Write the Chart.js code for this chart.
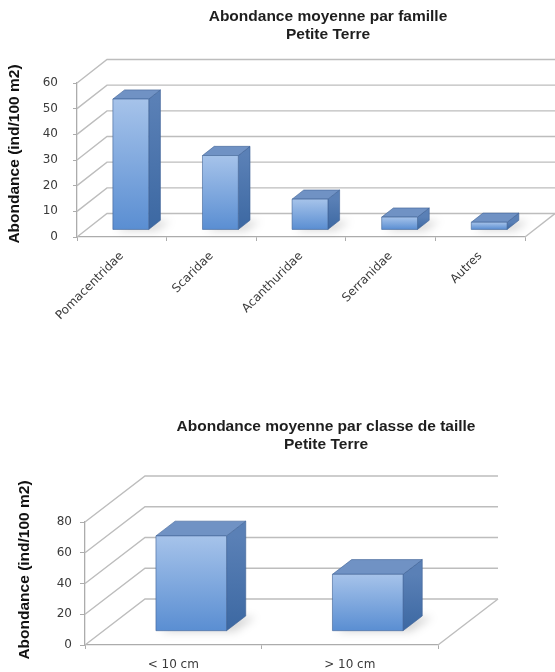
<!DOCTYPE html>
<html>
<head>
<meta charset="utf-8">
<script src="https://cdn.jsdelivr.net/npm/chart.js@4.4.1/dist/chart.umd.min.js"></script>
<style>
  html, body { margin: 0; padding: 0; background: #ffffff; }
  #wrap { position: relative; width: 555px; height: 672px; overflow: hidden; }
  canvas { position: absolute; left: 0; }
  #famille { top: 0; }
  #taille { top: 340px; }
</style>
</head>
<body>
<div id="wrap">
  <canvas id="famille" width="555" height="340"></canvas>
  <canvas id="taille" width="555" height="332"></canvas>
</div>
<script>
// Abondance moyenne par famille (ind/100 m2)
const familyLabels = ['Pomacentridae', 'Scaridae', 'Acanthuridae', 'Serranidae', 'Autres'];
const familyValues = [51, 29, 12, 5, 3];
const familyTicks = [0, 10, 20, 30, 40, 50, 60];

// Abondance moyenne par classe de taille (ind/100 m2)
const sizeLabels = ['< 10 cm', '> 10 cm'];
const sizeValues = [62, 37];
const sizeTicks = [0, 20, 40, 60, 80];

const yAxisTitle = 'Abondance (ind/100 m2)';
const familyTitle = ['Abondance moyenne par famille', 'Petite Terre'];
const sizeTitle = ['Abondance moyenne par classe de taille', 'Petite Terre'];

const GRID = '#bdbdbd';
const AXIS = '#acacac';
const TICK_FONT = { family: 'DejaVu Sans', size: 12 };
const TITLE_FONT = 'bold 15.5px "Liberation Sans", Arial, sans-serif';

// Pseudo-3D box chart: back wall grid, side diagonals, floor and extruded bars
const box3d = {
  id: 'box3d',
  beforeDatasetsDraw(chart, args, o) {
    const { ctx, chartArea: a, scales: { y } } = chart;
    ctx.save();
    ctx.strokeStyle = GRID;
    ctx.lineWidth = 1.4;
    y.ticks.forEach(t => {
      const py = y.getPixelForValue(t.value);
      ctx.beginPath();
      ctx.moveTo(a.left, py);
      ctx.lineTo(a.left + o.dx, py + o.dy);
      ctx.lineTo(a.right + o.dx, py + o.dy);
      ctx.stroke();
    });
    // right edge of the floor
    ctx.beginPath();
    ctx.moveTo(a.right, a.bottom);
    ctx.lineTo(a.right + o.dx, a.bottom + o.dy);
    ctx.stroke();
    ctx.restore();
  },
  afterDatasetsDraw(chart, args, o) {
    const { ctx } = chart;
    const meta = chart.getDatasetMeta(0);
    const fx = o.dx * o.d1, fy = o.dy * o.d1;
    const bx = o.dx * (o.d2 - o.d1), by = o.dy * (o.d2 - o.d1);
    meta.data.forEach(bar => {
      const p = bar.getProps(['x', 'y', 'base', 'width'], true);
      const L = p.x - p.width / 2 + fx, R = p.x + p.width / 2 + fx;
      const T = p.y + fy, B = p.base + fy;

      // soft floor shadow
      ctx.save();
      ctx.filter = 'blur(4px)';
      ctx.fillStyle = 'rgba(0,0,0,0.16)';
      ctx.beginPath();
      ctx.moveTo(L + 4, B + 1);
      ctx.lineTo(R + 8, B + 1);
      ctx.lineTo(R + bx + 10, B + by + 1);
      ctx.lineTo(L + bx + 4, B + by + 1);
      ctx.closePath();
      ctx.fill();
      ctx.restore();

      ctx.save();
      ctx.lineJoin = 'round';
      ctx.lineWidth = 0.8;
      ctx.strokeStyle = 'rgba(62,98,150,0.75)';

      // side face
      const gs = ctx.createLinearGradient(0, T, 0, B);
      gs.addColorStop(0, '#5a80b6');
      gs.addColorStop(1, '#3c68a2');
      ctx.fillStyle = gs;
      ctx.beginPath();
      ctx.moveTo(R, T);
      ctx.lineTo(R + bx, T + by);
      ctx.lineTo(R + bx, B + by);
      ctx.lineTo(R, B);
      ctx.closePath();
      ctx.fill();
      ctx.stroke();

      // top face
      ctx.fillStyle = '#7092c4';
      ctx.beginPath();
      ctx.moveTo(L, T);
      ctx.lineTo(L + bx, T + by);
      ctx.lineTo(R + bx, T + by);
      ctx.lineTo(R, T);
      ctx.closePath();
      ctx.fill();
      ctx.stroke();

      // front face
      const gf = ctx.createLinearGradient(0, T, 0, B);
      gf.addColorStop(0, '#a6c3ea');
      gf.addColorStop(1, '#5a8ed2');
      ctx.fillStyle = gf;
      ctx.fillRect(L, T, R - L, B - T);
      ctx.strokeRect(L, T, R - L, B - T);
      ctx.restore();
    });
  },
  afterDraw(chart, args, o) {
    const { ctx } = chart;
    ctx.save();
    ctx.fillStyle = '#1e1e1e';
    ctx.font = TITLE_FONT;
    ctx.textAlign = 'center';
    ctx.textBaseline = 'middle';
    o.title.forEach((line, i) => ctx.fillText(line, o.titleX, o.titleY + i * 17.5));
    ctx.translate(o.yTitleX, o.yTitleY);
    ctx.rotate(-Math.PI / 2);
    ctx.fillStyle = '#111111';
    ctx.fillText(yAxisTitle, 0, 0);
    ctx.restore();
  }
};

function makeChart(id, labels, values, ticks, cfg) {
  return new Chart(document.getElementById(id), {
    type: 'bar',
    data: {
      labels: labels,
      datasets: [{
        data: values,
        backgroundColor: 'rgba(0,0,0,0)',
        borderWidth: 0,
        barPercentage: 1,
        categoryPercentage: 0.4
      }]
    },
    options: {
      responsive: false,
      animation: false,
      devicePixelRatio: 1,
      layout: { padding: cfg.padding },
      plugins: {
        legend: { display: false },
        tooltip: { enabled: false },
        title: { display: false },
        box3d: cfg.box
      },
      scales: {
        x: {
          grid: { display: true, drawOnChartArea: false, drawTicks: true, tickLength: 4, color: AXIS, offset: true },
          border: { display: true, color: AXIS, width: 1.3 },
          ticks: {
            color: '#3a3a3a',
            font: TICK_FONT,
            padding: cfg.xPad,
            minRotation: cfg.rot,
            maxRotation: cfg.rot,
            autoSkip: false
          },
          afterFit: s => { s.height = cfg.xHeight; }
        },
        y: {
          min: ticks[0],
          max: ticks[ticks.length - 1],
          afterBuildTicks: s => { s.ticks = ticks.map(v => ({ value: v })); },
          grid: { display: true, drawOnChartArea: false, drawTicks: true, tickLength: cfg.yTick, color: AXIS },
          border: { display: true, color: AXIS, width: 1.3 },
          ticks: { color: '#3a3a3a', font: TICK_FONT, padding: cfg.yPad },
          afterFit: s => { s.width = cfg.yWidth; }
        }
      }
    },
    plugins: [box3d]
  });
}

makeChart('famille', familyLabels, familyValues, familyTicks, {
  padding: { left: 0, top: 83, right: 30, bottom: 0 },
  xHeight: 103, yWidth: 77, xPad: 8, yPad: 15, yTick: 4, rot: 45,
  box: { dx: 30, dy: -23.5, d1: 0.3, d2: 0.69,
         title: familyTitle, titleX: 328, titleY: 17, yTitleX: 15, yTitleY: 154 }
});

makeChart('taille', sizeLabels, sizeValues, sizeTicks, {
  padding: { left: 0, top: 182, right: 117, bottom: 0 },
  xHeight: 27, yWidth: 85, xPad: 9, yPad: 8, yTick: 5, rot: 0,
  box: { dx: 60, dy: -46, d1: 0.3, d2: 0.62,
         title: sizeTitle, titleX: 326, titleY: 87, yTitleX: 25, yTitleY: 230 }
});
</script>
</body>
</html>
